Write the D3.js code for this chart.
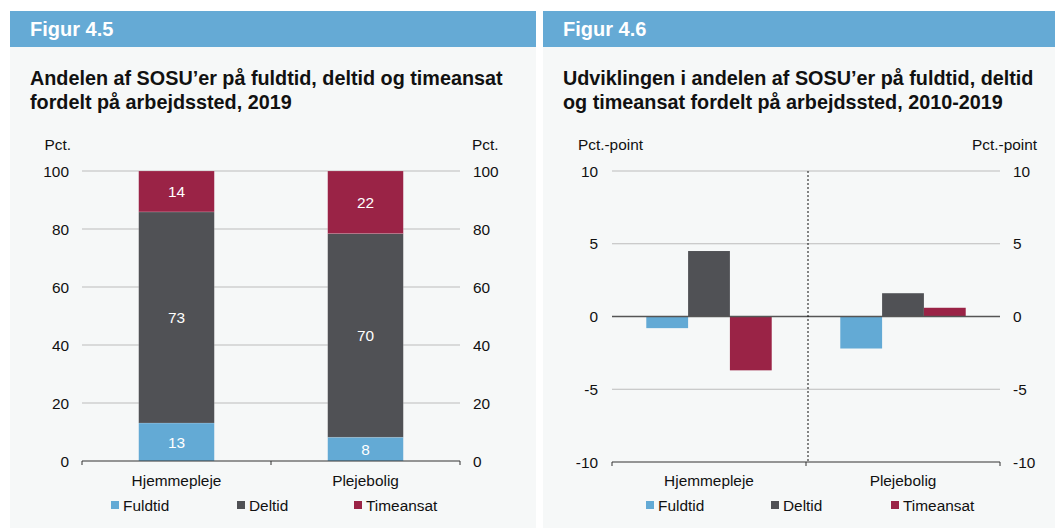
<!DOCTYPE html>
<html>
<head>
<meta charset="utf-8">
<script src="https://cdnjs.cloudflare.com/ajax/libs/d3/7.8.5/d3.min.js"></script>
<style>
  body { margin: 0; background: #fff; }
  svg { display: block; font-family: "Liberation Sans", Arial, sans-serif; }
</style>
</head>
<body>
<svg id="chart" width="1055" height="529"></svg>
<script>
var categories = ['Hjemmepleje', 'Plejebolig'];
var seriesNames = ['Fuldtid', 'Deltid', 'Timeansat'];
var colors = ['#63aad5', '#505155', '#9a2346'];

// Figur 4.5, andel i pct. (stablet)
var fuldtid2019 = [13.1, 8.2];
var deltid2019 = [72.8, 70.2];
var timeansat2019 = [14.1, 21.6];

// Figur 4.6, aendring i pct.-point 2010-2019
var fuldtidChange = [-0.8, -2.2];
var deltidChange = [4.5, 1.6];
var timeansatChange = [-3.7, 0.6];

var ticks45 = [0, 20, 40, 60, 80, 100];
var ticks46 = [-10, -5, 0, 5, 10];

var fs = '15.4px';
var svg = d3.select('#chart');

function panel(x0, x1, header, titleLines) {
  svg.append('rect').attr('x', x0).attr('y', 47).attr('width', x1 - x0).attr('height', 481)
    .style('fill', '#f6f8f8');
  svg.append('rect').attr('x', x0).attr('y', 11).attr('width', x1 - x0).attr('height', 36)
    .style('fill', '#65aad5');
  svg.append('text').attr('x', x0 + 20).attr('y', 36).text(header)
    .style('fill', '#fff').style('font-weight', 'bold').style('font-size', '20px');
  titleLines.forEach(function(t, i) {
    svg.append('text').attr('x', x0 + 20).attr('y', 85 + i * 24).text(t)
      .style('fill', '#111').style('font-weight', 'bold').style('font-size', '19.8px');
  });
}

panel(10, 536, 'Figur 4.5', ['Andelen af SOSU\u2019er på fuldtid, deltid og timeansat', 'fordelt på arbejdssted, 2019']);
panel(543, 1055, 'Figur 4.6', ['Udviklingen i andelen af SOSU\u2019er på fuldtid, deltid', 'og timeansat fordelt på arbejdssted, 2010-2019']);

function legend(xs) {
  seriesNames.forEach(function(s, i) {
    svg.append('rect').attr('x', xs[i]).attr('y', 501).attr('width', 8).attr('height', 8)
      .style('fill', colors[i]);
    svg.append('text').attr('x', xs[i] + 12).attr('y', 510.5).text(s)
      .style('font-size', fs).style('fill', '#111');
  });
}

function sideAxes(y, ticks, xl, xr, unit, unitLX, unitRX) {
  var g = svg.append('g').style('font-size', fs).style('fill', '#111');
  ticks.forEach(function(t) {
    g.append('text').attr('x', xl).attr('y', y(t) + 5.5).attr('text-anchor', 'end').text(t);
    g.append('text').attr('x', xr).attr('y', y(t) + 5.5).attr('text-anchor', 'start').text(t);
  });
  g.append('text').attr('x', unitLX).attr('y', 150).attr('text-anchor', 'end').text(unit);
  g.append('text').attr('x', unitRX).attr('y', 150).attr('text-anchor', 'start').text(unit);
}

// ---------- Figur 4.5 ----------
(function() {
  var left = 82, right = 460;
  var x = d3.scaleBand().domain(categories).range([left, right]).paddingInner(0.6).paddingOuter(0.3);
  var y = d3.scaleLinear().domain([0, 100]).range([461, 171]);

  svg.append('g').selectAll('line').data(ticks45.filter(function(d) { return d > 0; }))
    .enter().append('line')
    .attr('x1', left).attr('x2', right)
    .attr('y1', function(d) { return y(d); }).attr('y2', function(d) { return y(d); })
    .style('stroke', '#bcbcbc').style('stroke-width', 1);

  var rows = categories.map(function(c, i) {
    return { cat: c, Fuldtid: fuldtid2019[i], Deltid: deltid2019[i], Timeansat: timeansat2019[i] };
  });
  var stacked = d3.stack().keys(seriesNames)(rows);

  var layers = svg.append('g').selectAll('g').data(stacked).enter().append('g')
    .style('fill', function(d, i) { return colors[i]; });
  layers.selectAll('rect').data(function(d) { return d; }).enter().append('rect')
    .attr('x', function(d) { return x(d.data.cat); })
    .attr('width', x.bandwidth())
    .attr('y', function(d) { return y(d[1]); })
    .attr('height', function(d) { return y(d[0]) - y(d[1]); })
    .style('stroke', 'rgba(255,255,255,0.25)').style('stroke-width', 0.6);
  layers.selectAll('text').data(function(d) { return d; }).enter().append('text')
    .attr('x', function(d) { return x(d.data.cat) + x.bandwidth() / 2; })
    .attr('y', function(d) { return (y(d[0]) + y(d[1])) / 2 + 5.5; })
    .attr('text-anchor', 'middle')
    .style('fill', '#fff').style('font-size', fs)
    .text(function(d) { return d3.format('.0f')(d[1] - d[0]); });

  var xAxis = svg.append('g').attr('transform', 'translate(0,' + y(0) + ')');
  xAxis.append('line').attr('x1', left).attr('x2', right).style('stroke', '#333').style('stroke-width', 1.2);
  [left, (left + right) / 2, right].forEach(function(px) {
    xAxis.append('line').attr('x1', px).attr('x2', px).attr('y1', 0).attr('y2', 4)
      .style('stroke', '#333').style('stroke-width', 1);
  });
  categories.forEach(function(c) {
    svg.append('text').attr('x', x(c) + x.bandwidth() / 2).attr('y', 486).attr('text-anchor', 'middle')
      .text(c).style('font-size', fs).style('fill', '#111');
  });

  sideAxes(y, ticks45, 69, 473, 'Pct.', 71, 472);
  legend([111, 237, 354]);
})();

// ---------- Figur 4.6 ----------
(function() {
  var left = 612, right = 1000;
  var x0 = d3.scaleBand().domain(categories).range([left, right]);
  var x1 = d3.scaleBand().domain(seriesNames).range([0, x0.bandwidth()]).paddingOuter(0.82);
  var y = d3.scaleLinear().domain([-10, 10]).range([462, 171]);

  svg.append('g').selectAll('line').data([10, 5, -5])
    .enter().append('line')
    .attr('x1', left).attr('x2', right)
    .attr('y1', function(d) { return y(d); }).attr('y2', function(d) { return y(d); })
    .style('stroke', '#bcbcbc').style('stroke-width', 1);

  var series = [fuldtidChange, deltidChange, timeansatChange];
  var groups = svg.append('g').selectAll('g').data(categories).enter().append('g')
    .attr('transform', function(c) { return 'translate(' + x0(c) + ',0)'; });
  groups.selectAll('rect')
    .data(function(c, ci) {
      return seriesNames.map(function(s, si) { return { key: s, i: si, v: series[si][ci] }; });
    })
    .enter().append('rect')
    .attr('x', function(d) { return x1(d.key); })
    .attr('width', x1.bandwidth())
    .attr('y', function(d) { return y(Math.max(0, d.v)); })
    .attr('height', function(d) { return Math.abs(y(d.v) - y(0)); })
    .style('fill', function(d) { return colors[d.i]; });

  svg.append('line').attr('x1', left).attr('x2', right).attr('y1', y(0)).attr('y2', y(0))
    .style('stroke', '#555').style('stroke-width', 1.5);

  var mid = (left + right) / 2;
  svg.append('line').attr('x1', mid + 2).attr('x2', mid + 2).attr('y1', y(10)).attr('y2', y(-10))
    .style('stroke', '#111').style('stroke-width', 1).style('stroke-dasharray', '2,2');

  var xAxis = svg.append('g').attr('transform', 'translate(0,' + y(-10) + ')');
  xAxis.append('line').attr('x1', left).attr('x2', right).style('stroke', '#333').style('stroke-width', 1.2);
  [left, mid, right].forEach(function(px) {
    xAxis.append('line').attr('x1', px).attr('x2', px).attr('y1', 0).attr('y2', 4)
      .style('stroke', '#333').style('stroke-width', 1);
  });
  categories.forEach(function(c) {
    svg.append('text').attr('x', x0(c) + x0.bandwidth() / 2).attr('y', 486).attr('text-anchor', 'middle')
      .text(c).style('font-size', fs).style('fill', '#111');
  });

  sideAxes(y, ticks46, 598, 1013, 'Pct.-point', 643, 972);
  legend([646, 771, 891]);
})();
</script>
</body>
</html>
